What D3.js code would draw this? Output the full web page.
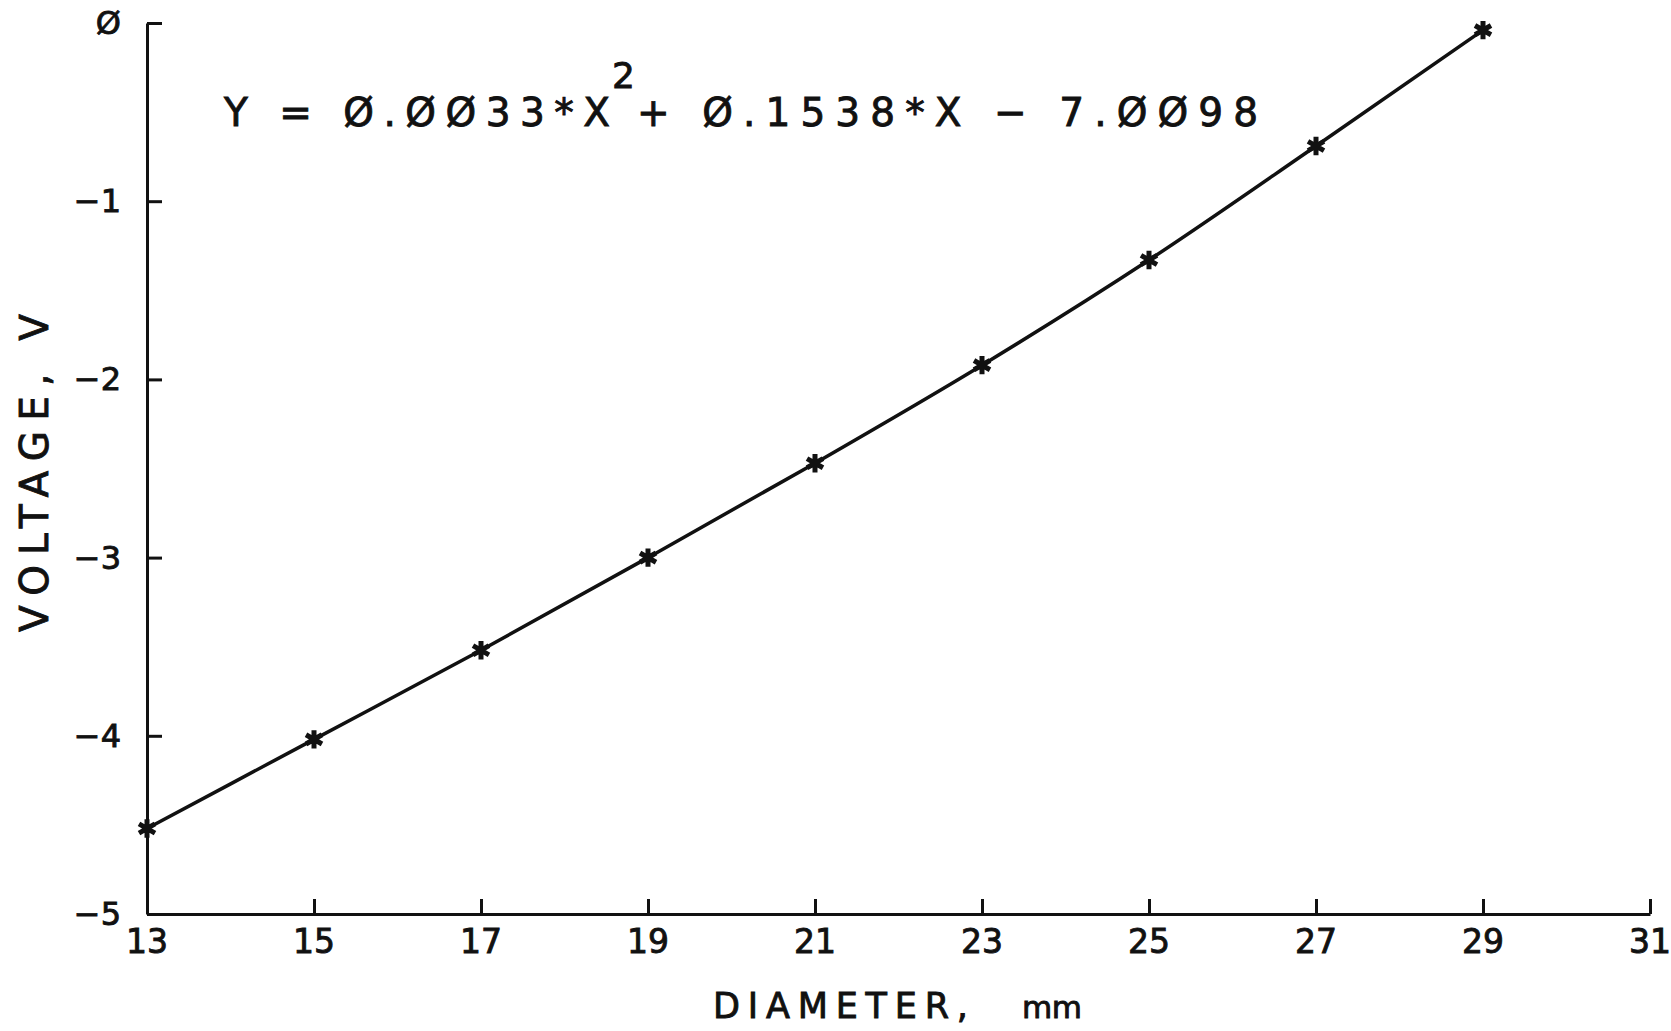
<html>

<head>
  <title>Voltage vs Diameter</title>
  <script src="https://d3js.org/d3.v7.min.js"></script>
  <style>
    body {
      margin: 0;
      background: #fff;
    }

    text {
      font-family: 'DejaVu Sans', sans-serif;
      fill: #111;
      stroke: #111;
      stroke-width: 0.9px;
    }

    .axis .domain,
    .axis line {
      stroke: #111;
      stroke-width: 3px;
    }
  </style>
</head>

<body>
  <svg id="chart" width="1671" height="1031"></svg>

  <script>
    // data
    const diameters = [13, 15, 17, 19, 21, 23, 25, 27, 29];
    const voltages = [-4.52, -4.02, -3.52, -3.00, -2.47, -1.92, -1.33, -0.69, -0.04];
    const xTicks = [13, 15, 17, 19, 21, 23, 25, 27, 29, 31];
    const yTicks = [0, -1, -2, -3, -4, -5];

    const svg = d3.select("svg#chart");
    const margin = { top: 23, right: 21, bottom: 117, left: 147 };
    const width = +svg.attr("width");
    const height = +svg.attr("height");

    const xScale = d3.scaleLinear()
      .domain([13, 31])
      .range([margin.left, width - margin.right]);

    const yScale = d3.scaleLinear()
      .domain([-5, 0])
      .range([height - margin.bottom, margin.top]);

    // plotter style zero with a slash, wide minus
    const fmt = d => String(d).replace(/0/g, "\u00D8").replace("-", "\u2212");

    // axes, ticks pointing inward
    svg.append("g")
      .attr("class", "axis x")
      .attr("transform", "translate(0," + yScale(-5) + ")")
      .call(d3.axisTop(xScale).tickValues(xTicks).tickSize(15).tickSizeOuter(0).tickFormat(""));

    svg.append("g")
      .attr("class", "axis y")
      .attr("transform", "translate(" + xScale(13) + ",0)")
      .call(d3.axisRight(yScale).tickValues(yTicks).tickSize(15).tickSizeOuter(0).tickFormat(""));

    // tick labels
    svg.append("g").selectAll("text")
      .data(xTicks)
      .enter()
      .append("text")
      .attr("x", d => xScale(d))
      .attr("y", yScale(-5) + 39)
      .attr("text-anchor", "middle")
      .attr("font-size", "33px")
      .text(d => fmt(d));

    svg.append("g").selectAll("text")
      .data(yTicks)
      .enter()
      .append("text")
      .attr("x", xScale(13) - 26)
      .attr("y", d => yScale(d) + 11)
      .attr("text-anchor", "end")
      .attr("font-size", "32px")
      .text(d => fmt(d));

    // axis titles
    const xTitle = svg.append("text")
      .attr("x", 713)
      .attr("y", 1018)
      .attr("font-size", "35px");
    xTitle.append("tspan")
      .attr("textLength", 255)
      .attr("lengthAdjust", "spacing")
      .text("DIAMETER,");
    xTitle.append("tspan")
      .attr("x", 1022)
      .attr("font-size", "31px")
      .attr("textLength", 60)
      .attr("lengthAdjust", "spacing")
      .text("mm");

    svg.append("text")
      .attr("transform", "translate(48,632) rotate(-90)")
      .attr("font-size", "39px")
      .attr("textLength", 318)
      .attr("lengthAdjust", "spacing")
      .text("VOLTAGE,  V");

    // fitted curve through the points
    const line = d3.line()
      .x((d, i) => xScale(diameters[i]))
      .y(d => yScale(d))
      .curve(d3.curveMonotoneX);

    svg.append("path")
      .datum(voltages)
      .attr("d", line)
      .attr("fill", "none")
      .attr("stroke", "#111")
      .attr("stroke-width", 3.5);

    // asterisk markers
    const star = d3.symbol().type(d3.symbolAsterisk).size(240);
    svg.append("g").selectAll("path")
      .data(voltages)
      .enter()
      .append("path")
      .attr("transform", (d, i) => "translate(" + xScale(diameters[i]) + "," + yScale(d) + ")")
      .attr("d", star)
      .attr("fill", "none")
      .attr("stroke", "#111")
      .attr("stroke-width", 5);

    // equation
    const eq = svg.append("text")
      .attr("y", 126)
      .attr("font-size", "39px");
    eq.append("tspan")
      .attr("x", 224)
      .attr("textLength", 386)
      .attr("lengthAdjust", "spacing")
      .text("Y = \u00D8.\u00D8\u00D833*X");
    eq.append("tspan")
      .attr("x", 612)
      .attr("dy", -38)
      .attr("font-size", "36px")
      .text("2");
    eq.append("tspan")
      .attr("x", 637)
      .attr("dy", 38)
      .attr("textLength", 621)
      .attr("lengthAdjust", "spacing")
      .text("+ \u00D8.1538*X \u2212 7.\u00D8\u00D898");
  </script>
</body>

</html>
